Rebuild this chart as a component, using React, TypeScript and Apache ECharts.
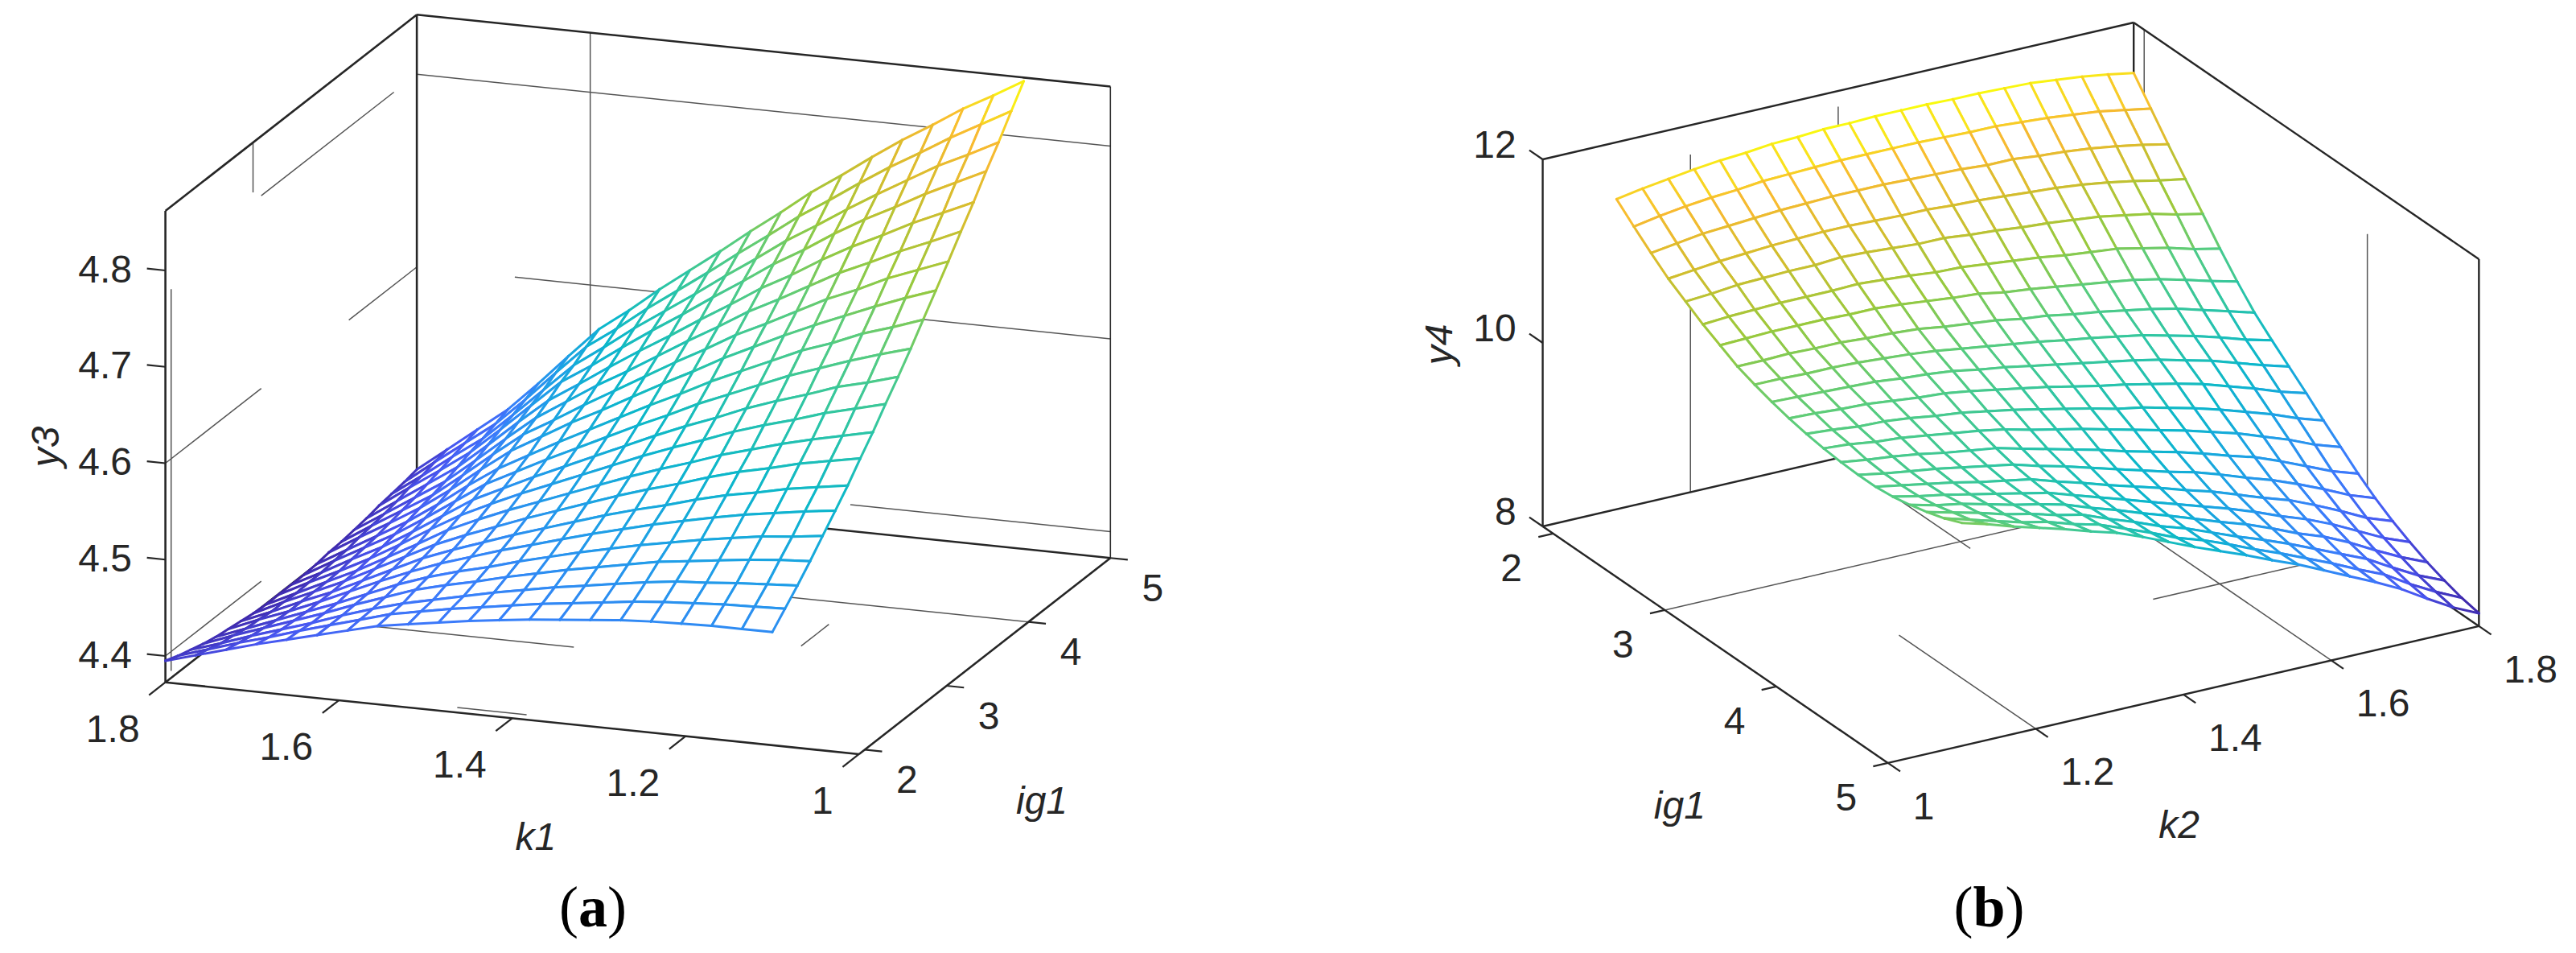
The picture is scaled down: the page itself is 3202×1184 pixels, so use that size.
import React, { useEffect, useRef } from "react";
import * as echarts from "echarts";

// ---------- panel (a) data ----------
const K1_NODES = [1.8,1.765,1.73,1.695,1.66,1.625,1.59,1.555,1.52,1.485,1.45,1.415,1.38,1.345,1.31,1.275,1.24,1.205,1.17,1.135,1.1];
const IG1_NODES_A = [1.93,2.084,2.237,2.391,2.544,2.698,2.851,3.005,3.158,3.312,3.465,3.619,3.772,3.926,4.079,4.233,4.386,4.54,4.693,4.847,5];
const Y3 = [
[4.395,4.404,4.413,4.422,4.430,4.438,4.446,4.454,4.459,4.464,4.469,4.473,4.477,4.480,4.483,4.486,4.488,4.489,4.490,4.490,4.490],
[4.390,4.400,4.410,4.419,4.429,4.438,4.447,4.456,4.462,4.468,4.473,4.478,4.483,4.487,4.491,4.495,4.498,4.500,4.502,4.503,4.504],
[4.386,4.396,4.407,4.417,4.427,4.438,4.448,4.457,4.464,4.471,4.478,4.484,4.490,4.495,4.500,4.505,4.509,4.511,4.514,4.516,4.518],
[4.382,4.394,4.405,4.416,4.427,4.439,4.450,4.461,4.469,4.476,4.484,4.491,4.498,4.504,4.510,4.516,4.520,4.524,4.528,4.531,4.533],
[4.379,4.391,4.403,4.415,4.427,4.440,4.453,4.464,4.473,4.481,4.490,4.498,4.506,4.513,4.520,4.526,4.532,4.537,4.542,4.545,4.549],
[4.377,4.390,4.402,4.415,4.429,4.443,4.456,4.468,4.478,4.488,4.497,4.506,4.515,4.523,4.531,4.538,4.545,4.551,4.556,4.561,4.565],
[4.375,4.388,4.402,4.415,4.430,4.445,4.460,4.472,4.483,4.494,4.504,4.514,4.524,4.533,4.541,4.550,4.558,4.564,4.571,4.576,4.581],
[4.373,4.388,4.402,4.416,4.432,4.448,4.464,4.477,4.489,4.501,4.512,4.523,4.534,4.544,4.553,4.563,4.572,4.579,4.587,4.593,4.599],
[4.372,4.387,4.402,4.417,4.434,4.451,4.469,4.483,4.496,4.508,4.520,4.532,4.544,4.555,4.565,4.576,4.585,4.594,4.602,4.609,4.616],
[4.372,4.388,4.403,4.419,4.437,4.456,4.474,4.489,4.503,4.516,4.529,4.542,4.555,4.567,4.578,4.590,4.600,4.609,4.619,4.627,4.635],
[4.372,4.388,4.405,4.421,4.440,4.460,4.480,4.495,4.510,4.524,4.538,4.552,4.566,4.579,4.591,4.604,4.615,4.625,4.636,4.644,4.653],
[4.372,4.390,4.407,4.424,4.444,4.465,4.486,4.502,4.518,4.533,4.548,4.563,4.577,4.592,4.605,4.618,4.631,4.642,4.653,4.663,4.672],
[4.373,4.391,4.409,4.427,4.448,4.471,4.492,4.509,4.526,4.542,4.558,4.574,4.589,4.605,4.619,4.633,4.647,4.658,4.671,4.681,4.692],
[4.375,4.394,4.412,4.431,4.453,4.477,4.500,4.518,4.536,4.552,4.569,4.586,4.602,4.619,4.634,4.649,4.663,4.676,4.689,4.701,4.712],
[4.376,4.396,4.415,4.434,4.458,4.483,4.507,4.525,4.544,4.562,4.580,4.598,4.615,4.633,4.648,4.664,4.680,4.693,4.708,4.720,4.732],
[4.378,4.398,4.418,4.438,4.463,4.489,4.514,4.534,4.554,4.572,4.591,4.610,4.628,4.647,4.663,4.680,4.697,4.711,4.726,4.739,4.753],
[4.380,4.401,4.422,4.443,4.469,4.496,4.522,4.542,4.563,4.583,4.602,4.622,4.641,4.661,4.678,4.697,4.714,4.729,4.745,4.759,4.773],
[4.383,4.405,4.426,4.448,4.475,4.503,4.531,4.551,4.573,4.594,4.614,4.635,4.655,4.676,4.694,4.714,4.732,4.748,4.765,4.780,4.795],
[4.385,4.407,4.430,4.452,4.480,4.509,4.538,4.560,4.583,4.604,4.625,4.647,4.668,4.690,4.709,4.729,4.748,4.766,4.784,4.799,4.815],
[4.387,4.411,4.434,4.457,4.486,4.517,4.547,4.569,4.593,4.615,4.637,4.660,4.682,4.705,4.725,4.746,4.766,4.784,4.803,4.820,4.837],
[4.390,4.414,4.438,4.462,4.492,4.524,4.555,4.578,4.603,4.626,4.649,4.673,4.696,4.720,4.741,4.763,4.784,4.803,4.823,4.840,4.858],
];

// ---------- panel (b) data ----------
const K2_NODES = [1.1,1.135,1.17,1.205,1.24,1.275,1.31,1.345,1.38,1.415,1.45,1.485,1.52,1.555,1.59,1.625,1.66,1.695,1.73,1.765,1.8];
const IG1_NODES_B = [1.906,2.061,2.215,2.37,2.525,2.68,2.834,2.989,3.144,3.298,3.453,3.608,3.762,3.917,4.072,4.227,4.381,4.536,4.691,4.845,5];
const Y4 = [
[11.38,11.43,11.47,11.51,11.54,11.56,11.59,11.60,11.62,11.62,11.63,11.63,11.63,11.62,11.62,11.61,11.60,11.57,11.54,11.50,11.45],
[11.21,11.26,11.30,11.33,11.35,11.38,11.39,11.40,11.41,11.41,11.41,11.41,11.40,11.39,11.39,11.37,11.35,11.32,11.29,11.24,11.19],
[11.05,11.09,11.13,11.15,11.17,11.19,11.20,11.21,11.21,11.21,11.20,11.19,11.18,11.16,11.16,11.13,11.11,11.08,11.04,10.99,10.93],
[10.90,10.93,10.96,10.98,11.00,11.01,11.02,11.02,11.01,11.00,11.00,10.98,10.97,10.95,10.93,10.91,10.88,10.84,10.79,10.73,10.68],
[10.78,10.80,10.83,10.84,10.85,10.85,10.87,10.86,10.84,10.82,10.82,10.79,10.77,10.74,10.72,10.69,10.66,10.61,10.56,10.49,10.43],
[10.66,10.68,10.69,10.70,10.70,10.70,10.71,10.69,10.67,10.64,10.63,10.60,10.57,10.54,10.50,10.47,10.44,10.38,10.32,10.24,10.18],
[10.56,10.57,10.58,10.58,10.58,10.57,10.57,10.55,10.52,10.49,10.47,10.42,10.39,10.35,10.31,10.27,10.23,10.17,10.10,10.02,9.95],
[10.46,10.46,10.47,10.46,10.46,10.44,10.43,10.41,10.37,10.34,10.31,10.26,10.23,10.18,10.14,10.09,10.04,9.98,9.90,9.82,9.74],
[10.39,10.39,10.38,10.38,10.37,10.35,10.33,10.30,10.26,10.22,10.18,10.14,10.09,10.05,10.00,9.95,9.88,9.81,9.73,9.64,9.57],
[10.33,10.32,10.31,10.30,10.29,10.26,10.24,10.21,10.16,10.12,10.07,10.02,9.97,9.92,9.87,9.81,9.74,9.67,9.58,9.49,9.41],
[10.28,10.27,10.25,10.24,10.21,10.18,10.16,10.12,10.07,10.02,9.97,9.91,9.85,9.80,9.74,9.68,9.61,9.52,9.43,9.33,9.25],
[10.24,10.22,10.19,10.18,10.15,10.11,10.08,10.03,9.98,9.92,9.86,9.80,9.73,9.68,9.61,9.54,9.46,9.37,9.28,9.17,9.08],
[10.21,10.19,10.15,10.13,10.09,10.05,10.01,9.96,9.89,9.83,9.77,9.70,9.63,9.56,9.49,9.41,9.33,9.23,9.13,9.01,8.92],
[10.19,10.15,10.12,10.08,10.03,9.99,9.95,9.88,9.81,9.74,9.67,9.59,9.52,9.45,9.37,9.28,9.20,9.09,8.97,8.85,8.76],
[10.18,10.13,10.09,10.05,10.00,9.95,9.90,9.82,9.75,9.67,9.59,9.51,9.43,9.36,9.27,9.17,9.08,8.97,8.85,8.72,8.62],
[10.18,10.13,10.08,10.03,9.97,9.92,9.87,9.78,9.70,9.61,9.53,9.45,9.36,9.28,9.18,9.08,8.99,8.87,8.74,8.60,8.50],
[10.20,10.14,10.09,10.03,9.97,9.91,9.85,9.76,9.67,9.58,9.49,9.40,9.31,9.22,9.12,9.01,8.91,8.79,8.65,8.51,8.40],
[10.24,10.17,10.12,10.05,9.98,9.92,9.85,9.75,9.66,9.56,9.47,9.37,9.27,9.18,9.07,8.95,8.85,8.72,8.57,8.43,8.31],
[10.29,10.22,10.15,10.07,10.01,9.93,9.87,9.76,9.66,9.55,9.46,9.35,9.24,9.14,9.03,8.91,8.79,8.67,8.51,8.36,8.24],
[10.35,10.27,10.19,10.11,10.05,9.96,9.89,9.78,9.67,9.55,9.46,9.35,9.23,9.12,9.00,8.88,8.75,8.63,8.46,8.31,8.18],
[10.43,10.35,10.26,10.18,10.10,10.01,9.93,9.82,9.70,9.58,9.47,9.36,9.24,9.13,9.00,8.87,8.74,8.60,8.43,8.27,8.14],
];

// ---------- tick labels ----------
const Y3_TICKS = [4.4, 4.5, 4.6, 4.7, 4.8];
const K1_TICKS = [1.8, 1.6, 1.4, 1.2, 1];
const IG1_TICKS = [2, 3, 4, 5];
const Y4_TICKS = [8, 10, 12];
const K2_TICKS = [1, 1.2, 1.4, 1.6, 1.8];

const A_Z: [number, number] = [4.3727, 4.8618];

// segments in data units: [k, ig, z, k, ig, z]
type Seg = number[];
const [az0, az1] = A_Z;
const BOX_A: Seg[] = [
  [1.8,1.93,az1,1.8,5,az1],[1.8,5,az1,1,5,az1],
  [1.8,1.93,az0,1.8,1.93,az1],[1.8,5,az0,1.8,5,az1],
  [1.8,1.93,az0,1,1.93,az0],[1,1.93,az0,1,5,az0],[1.8,1.93,az0,1.8,5,az0],[1.8,5,az0,1,5,az0],
];
const BOX_A_THIN: Seg[] = [[1,5,az0,1,5,az1]];
const GRID_A: Seg[] = [
  [1.8,2,4.776,1.8,2,4.38],[1.8,3,az1,1.8,3,4.81],
  [1.8,1.93,4.4,1.8,3.1,4.4],[1.8,1.93,4.6,1.8,3.1,4.6],[1.8,3.1,4.8,1.8,4.72,4.8],[1.8,4.17,4.6,1.8,5,4.6],
  [1.8,5,4.8,1,5,4.8],[1.687,5,4.6,1,5,4.6],[1.3,5,4.4,1,5,4.4],[1.6,5,az1,1.6,5,4.45],
  [1.66,3,az0,1.43,3,az0],[1.47,2,az0,1.39,2,az0],[1.2,3.34,az0,1.2,3.68,az0],[1.3,4,az0,1,4,az0],
];
const BOX_B: Seg[] = [
  [1,1.906,12,1.8,1.906,12],[1.8,1.906,12,1.8,5,12],
  [1,1.906,8,1,1.906,12],[1.8,1.906,8,1.8,1.906,12],[1.8,5,8,1.8,5,12],
  [1,1.906,8,1.8,1.906,8],[1.8,1.906,8,1.8,5,8],[1,1.906,8,1,5,8],[1,5,8,1.8,5,8],
];
const GRID_B: Seg[] = [
  [1.2,1.906,11.68,1.2,1.906,8],[1.4,1.906,11.83,1.4,1.906,11.5],
  [1.8,2,12,1.8,2,11.27],[1.8,4,11.44,1.8,4,8],
  [1,3,8,1.6,3,8],[1.51,4,8,1.8,4,8],
  [1.2,3.775,8,1.2,5,8],[1.4,2.43,8,1.4,3.09,8],[1.6,3.416,8,1.6,5,8],
];

const seg = (a: number[], b: number[]): Seg => [...a, ...b];
const TICKS_A: Seg[] = [
  ...K1_TICKS.map((k) => seg([k, 1.93, az0], [k, 1.73, az0])),
  ...IG1_TICKS.map((g) => seg([1, g, az0], [0.98, g, az0])),
  ...Y3_TICKS.map((z) => seg([1.8, 1.93, z], [1.8213, 1.93, z])),
];
const TICKS_B: Seg[] = [
  ...K2_TICKS.map((k) => seg([k, 5, 8], [k, 5.11, 8])),
  ...IG1_TICKS.map((g) => seg([1, g, 8], [0.98, g, 8])),
  ...Y4_TICKS.map((z) => seg([1, 1.906, z], [1, 1.786, z])),
];

// colours
const COLOR_STOPS = ["#3e26a8","#4855f0","#3a7dfb","#1f9ee8","#0cb7cb","#2cc5a5","#58cc7e","#9ac93c","#d3bd2d","#f8ba30","#f9fb0e"];
const INK = "#262626";
const GRID_INK = "#555555";

type Proj = (k: number, g: number, z: number) => [number, number];
const projA: Proj = (k, g, z) => [
  205.6 - 1077.7 * (k - 1.8) + 101.8 * (g - 1.93),
  847.7 - 111.6 * (k - 1.8) - 79.4 * (g - 1.93) - 1197.5 * (z - 4.3727),
];
const projB: Proj = (k, g, z) => [
  1917.6 + 918.25 * (k - 1) + 138.7 * (g - 1.906),
  654 - 212.5 * (k - 1) + 95 * (g - 1.906) - 114 * (z - 8),
];

const segSeries = (name: string, segs: Seg[], proj: Proj, width: number, color: string, z: number) => ({
  type: "custom",
  name,
  coordinateSystem: "cartesian2d",
  silent: true,
  clip: false,
  progressive: 0,
  z,
  data: segs,
  renderItem: (_: any, api: any) => {
    const a = api.coord(proj(api.value(0), api.value(1), api.value(2)));
    const b = api.coord(proj(api.value(3), api.value(4), api.value(5)));
    return {
      type: "line",
      shape: { x1: a[0], y1: a[1], x2: b[0], y2: b[1] },
      style: { stroke: color, lineWidth: width, fill: null },
    };
  },
});

const surfaceSeries = (
  name: string,
  ks: number[],
  gs: number[],
  table: number[][],
  proj: Proj,
  order: number[][],
  cmin: number,
  cmax: number,
) => ({
  type: "custom",
  name,
  coordinateSystem: "cartesian2d",
  silent: true,
  clip: false,
  progressive: 0,
  z: 5,
  data: order,
  renderItem: (_: any, api: any) => {
    const i = api.value(0);
    const j = api.value(1);
    const node = (ii: number, jj: number) => api.coord(proj(ks[ii], gs[jj], table[jj][ii]));
    const p = [node(i, j), node(i + 1, j), node(i + 1, j + 1), node(i, j + 1)];
    const zs = [table[j][i], table[j][i + 1], table[j + 1][i + 1], table[j + 1][i]];
    const edge = (m: number) => {
      const n = (m + 1) % 4;
      const t = ((zs[m] + zs[n]) / 2 - cmin) / (cmax - cmin);
      return {
        type: "line",
        shape: { x1: p[m][0], y1: p[m][1], x2: p[n][0], y2: p[n][1] },
        style: {
          stroke: echarts.color.lerp(Math.max(0, Math.min(1, t)), COLOR_STOPS),
          lineWidth: 3,
          lineCap: "round",
          fill: null,
        },
      };
    };
    return {
      type: "group",
      children: [
        { type: "polygon", shape: { points: p }, style: { fill: "#ffffff", stroke: null } },
        edge(0), edge(1), edge(2), edge(3),
      ],
    };
  },
});

const cellsA: number[][] = [];
for (let j = IG1_NODES_A.length - 2; j >= 0; j--) for (let i = 0; i < K1_NODES.length - 1; i++) cellsA.push([i, j]);
const cellsB: number[][] = [];
for (let j = 0; j < IG1_NODES_B.length - 1; j++) for (let i = K2_NODES.length - 2; i >= 0; i--) cellsB.push([i, j]);

type Label = { text: string; x: number; y: number; align?: string; italic?: boolean; rotate?: boolean };
const LABELS: Label[] = [];
const addAt = (text: string, pt: [number, number], dx: number, dy: number, align: string) =>
  LABELS.push({ text, x: pt[0] + dx, y: pt[1] + dy, align });
Y3_TICKS.forEach((z) => addAt(String(z), projA(1.8, 1.93, z), -41.6, -2, "right"));
K1_TICKS.forEach((k) => addAt(String(k), projA(k, 1.93, az0), -32, 57.5, "right"));
IG1_TICKS.forEach((g) => addAt(String(g), projA(1, g, az0), 52.5, 37, "center"));
Y4_TICKS.forEach((z) => addAt(String(z), projB(1, 1.906, z), -33, -19, "right"));
K2_TICKS.forEach((k) => addAt(String(k), projB(k, 5, 8), 31, 53.5, "left"));
IG1_TICKS.forEach((g) => addAt(String(g), projB(1, g, 8), -52, 42.5, "center"));
LABELS.push(
  { text: "k1", x: 665.8, y: 1039.5, italic: true },
  { text: "ig1", x: 1295, y: 994, italic: true },
  { text: "y3", x: 56, y: 555, italic: true, rotate: true },
  { text: "k2", x: 2708.7, y: 1024.6, italic: true },
  { text: "ig1", x: 2087.8, y: 1000.4, italic: true },
  { text: "y4", x: 1788.8, y: 427.9, italic: true, rotate: true },
);
const CAPTIONS = [
  { letter: "a", x: 737, y: 1127 },
  { letter: "b", x: 2472.4, y: 1127 },
];

export default function App() {
  const ref = useRef<HTMLDivElement>(null);
  useEffect(() => {
    if (!ref.current) return;
    const chart = echarts.init(ref.current, undefined, { renderer: "svg" });
    chart.setOption({
      animation: false,
      backgroundColor: "#ffffff",
      grid: { left: 0, right: 0, top: 0, bottom: 0 },
      xAxis: { type: "value", min: 0, max: 3202, show: false },
      yAxis: { type: "value", min: 0, max: 1184, inverse: true, show: false },
      series: [
        segSeries("gridA", GRID_A, projA, 1.5, GRID_INK, 1),
        segSeries("boxA", BOX_A, projA, 2.6, INK, 2),
        segSeries("boxAThin", BOX_A_THIN, projA, 1.6, INK, 2),
        segSeries("ticksA", TICKS_A, projA, 2.2, INK, 2),
        segSeries("gridB", GRID_B, projB, 1.5, GRID_INK, 1),
        segSeries("boxB", BOX_B, projB, 2.4, INK, 2),
        segSeries("ticksB", TICKS_B, projB, 2.2, INK, 2),
        surfaceSeries("y3", K1_NODES, IG1_NODES_A, Y3, projA, cellsA, 4.372, 4.858),
        surfaceSeries("y4", K2_NODES, IG1_NODES_B, Y4, projB, cellsB, 8.14, 11.63),
        {
          type: "custom",
          name: "labels",
          coordinateSystem: "cartesian2d",
          silent: true,
          clip: false,
          progressive: 0,
          z: 10,
          data: LABELS.map((l, i) => [i]),
          renderItem: (params: any, api: any) => {
            const l = LABELS[params.dataIndex];
            const c = api.coord([l.x, l.y]);
            return {
              type: "text",
              x: c[0],
              y: c[1],
              rotation: l.rotate ? Math.PI / 2 : 0,
              style: {
                text: l.text,
                fill: INK,
                font: `${l.italic ? "italic " : ""}48px "Liberation Sans"`,
                align: l.align || "center",
                verticalAlign: "middle",
              },
            };
          },
        },
        {
          type: "custom",
          name: "captions",
          coordinateSystem: "cartesian2d",
          silent: true,
          clip: false,
          progressive: 0,
          z: 10,
          data: CAPTIONS.map((c, i) => [i]),
          renderItem: (params: any, api: any) => {
            const cap = CAPTIONS[params.dataIndex];
            const c = api.coord([cap.x, cap.y]);
            return {
              type: "text",
              x: c[0],
              y: c[1],
              style: {
                text: `{n|(}{b|${cap.letter}}{n|)}`,
                align: "center",
                verticalAlign: "middle",
                rich: {
                  n: { font: '72px "Liberation Serif"', fill: "#000000" },
                  b: { font: 'bold 72px "Liberation Serif"', fill: "#000000" },
                },
              },
            };
          },
        },
      ],
    });
    return () => chart.dispose();
  }, []);
  return <div ref={ref} style={{ position: "absolute", left: 0, top: 0, width: 3202, height: 1184 }} />;
}
